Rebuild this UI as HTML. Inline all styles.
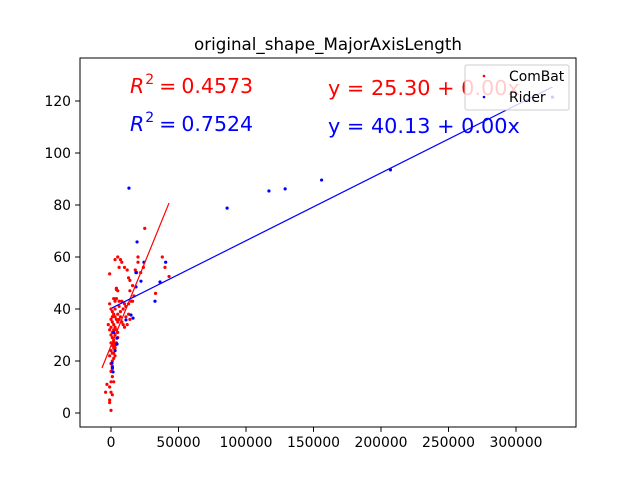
<!DOCTYPE html>
<html><head><meta charset="utf-8"><style>body{margin:0;background:#fff}svg{display:block;font-family:"DejaVu Sans","Liberation Sans",sans-serif}</style></head>
<body>
<svg id="c" width="640" height="480"></svg>
<script>
const redX=[25,38,43,40,33,20,20,19,18,22,24,3,5,7,6,8,-1,10,12,13,14,16,17,15,13,14,16,4,5,4,2,3,4,6,8,10,11,9,7,5,3,2,1,0,1,2,3,4,5,6,7,8,9,10,12,14,13,11,0,1,2,0,1,2,0,1,3,2,1,0,1,0,1,2,0,-1,-3,-4,0,1,-1,-1,0,1,3,5,4,3,2,-1,0,-1,-2,0,-1,6,2,4,1,3,5,2,1,3];
const redY=[71,60,52.5,56,46,60,58,54,55,54,56,59,60,59,56,58,53.5,56,55,52,51,49,45,43,42,47,43,48,47,47.5,44,43,44,43,43,42,41,40,39,38,40,38,37,36,35,34,33,32,35,36,37,35,34,33,34,36,38,37,30,29,28,27,26,25,24,23,22,21,20,19,17,16,14,12,12,10,11,8,8,7,5,4,1,31,30,29,27,25,23,22,33,32,34,40,42,41,32,36,39,37,31,27,18,26];
const blueX=[13.3,117,129,156,207,327,86,19.3,24.4,40.5,18.5,22.2,18.5,36.3,32.6,11.1,14.8,16.3,4.4,4.4,0.7,1.5,1,2,3];
const blueY=[86.5,85.4,86.2,89.6,93.5,121.5,78.8,65.8,58,58,54,50.7,48.5,50.4,43,35.8,37.7,36.5,28.8,26.5,19.2,15.8,17.5,31,24];
const redFit=[[-6.7,17.3],[43,80.8]];
const blueFit=[[0.7,40.4],[327,125.4]];
const xTicks=[0,50000,100000,150000,200000,250000,300000];
const yTicks=[0,20,40,60,80,100,120];
const L=80,R=576,T=58,B=427;
const X=v=>111+v*405/300000, Y=v=>413-v*2.6;
const s=document.getElementById('c'),NS='http://www.w3.org/2000/svg';
function el(t,a,txt){const e=document.createElementNS(NS,t);for(const k in a)e.setAttribute(k,a[k]);if(txt!=null)e.textContent=txt;s.appendChild(e);return e;}
let e;
e=el('rect',{x:L,y:T,width:R-L,height:B-T,fill:'#fff',stroke:'#000','stroke-width':1});

xTicks.forEach(v=>{el('line',{x1:X(v),x2:X(v),y1:B,y2:B+4.9,stroke:'#000','stroke-width':1});
e=el('text',{x:X(v),y:B+20,'font-size':13.9,'text-anchor':'middle'},String(v));
});
yTicks.forEach(v=>{el('line',{x1:L,x2:L-4.9,y1:Y(v),y2:Y(v),stroke:'#000','stroke-width':1});
e=el('text',{x:L-9,y:Y(v)+5,'font-size':13.9,'text-anchor':'end'},String(v));
});
e=el('text',{x:328,y:50,'font-size':16.7,'text-anchor':'middle'},'original_shape_MajorAxisLength');

redX.forEach((v,i)=>{e=el('circle',{cx:X(v*1000),cy:Y(redY[i]),r:1.6,fill:'red'});
});
blueX.forEach((v,i)=>{e=el('circle',{cx:X(v*1000),cy:Y(blueY[i]),r:1.6,fill:'blue'});
});
e=el('line',{x1:X(redFit[0][0]*1000),y1:Y(redFit[0][1]),x2:X(redFit[1][0]*1000),y2:Y(redFit[1][1]),stroke:'red','stroke-width':1.2});

e=el('line',{x1:X(blueFit[0][0]*1000),y1:Y(blueFit[0][1]),x2:X(blueFit[1][0]*1000),y2:Y(blueFit[1][1]),stroke:'blue','stroke-width':1.2});

</script>
<svg width="640" height="480" style="position:absolute;left:0;top:0;font-family:'DejaVu Sans','Liberation Sans',sans-serif">
<text x="130" y="93" font-size="20.5" fill="red"><tspan font-style="italic">R</tspan><tspan font-size="14" dy="-9" dx="1">2</tspan><tspan dy="9" dx="5">=</tspan><tspan dx="5">0.4573</tspan></text>
<text x="130" y="131" font-size="20.5" fill="blue"><tspan font-style="italic">R</tspan><tspan font-size="14" dy="-9" dx="1">2</tspan><tspan dy="9" dx="5">=</tspan><tspan dx="5">0.7524</tspan></text>
<text x="328" y="95" font-size="20.8" fill="red">y = 25.30 + 0.00x</text>
<text x="328" y="133" font-size="20.8" fill="blue">y = 40.13 + 0.00x</text>
<g>
<rect x="465" y="65" width="104" height="45" rx="2" fill="#fff" fill-opacity="0.8" stroke="#ccc" stroke-width="1"/>
<circle cx="484" cy="76" r="1.3" fill="red"/>
<text x="509" y="81" font-size="13.9">ComBat</text>
<circle cx="484" cy="97" r="1.3" fill="blue"/>
<text x="509" y="102" font-size="13.9">Rider</text>
</g>
</svg>
</body></html>
